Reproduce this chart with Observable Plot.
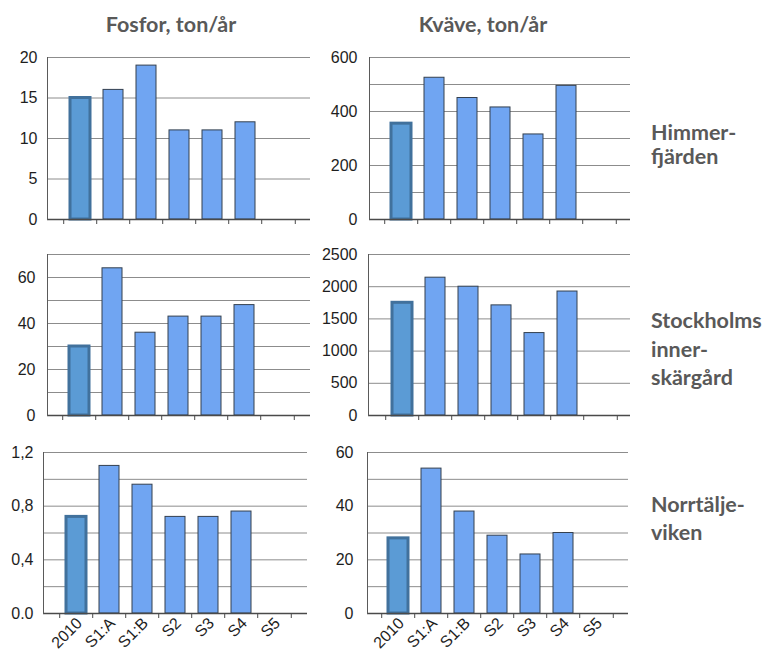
<!DOCTYPE html>
<html>
<head>
<meta charset="utf-8">
<script src="https://cdn.jsdelivr.net/npm/d3@7"></script>
<script src="https://cdn.jsdelivr.net/npm/@observablehq/plot@0.6"></script>
<style>
  html, body { margin: 0; padding: 0; background: #fff; }
  #chart { position: relative; width: 766px; height: 653px; overflow: hidden; background: #fff; }
  #chart > svg { position: absolute; }
  .title { font-family: Lato, "Open Sans", sans-serif; font-weight: 700; fill: #595959; }
</style>
</head>
<body>
<div id="chart"></div>
<script>
// ---- data ----
const categories = ["2010", "S1:A", "S1:B", "S2", "S3", "S4", "S5"];

const fosforHimmerfjarden = [15, 16, 19, 11, 11, 12, null];
const kvaveHimmerfjarden = [355, 525, 450, 415, 315, 495, null];
const fosforStockholm = [30, 64, 36, 43, 43, 48, null];
const kvaveStockholm = [1750, 2140, 2000, 1710, 1280, 1925, null];
const fosforNorrtalje = [0.72, 1.1, 0.96, 0.72, 0.72, 0.76, null];
const kvaveNorrtalje = [28, 54, 38, 29, 22, 30, null];

const columnTitles = ["Fosfor, ton/år", "Kväve, ton/år"];
const rowLabels = [["Himmer-", "fjärden"], ["Stockholms", "inner-", "skärgård"], ["Norrtälje-", "viken"]];

// y ticks (labelled) and gridlines
const ticksFH = [0, 5, 10, 15, 20];
const labelsFH = ["0", "5", "10", "15", "20"];
const gridFH = [0, 5, 10, 15, 20];

const ticksKH = [0, 200, 400, 600];
const labelsKH = ["0", "200", "400", "600"];
const gridKH = [0, 100, 200, 300, 400, 500, 600];

const ticksFS = [0, 20, 40, 60];
const labelsFS = ["0", "20", "40", "60"];
const gridFS = [0, 10, 20, 30, 40, 50, 60, 70];

const ticksKS = [0, 500, 1000, 1500, 2000, 2500];
const labelsKS = ["0", "500", "1000", "1500", "2000", "2500"];
const gridKS = [0, 500, 1000, 1500, 2000, 2500];

const ticksFN = [0, 0.4, 0.8, 1.2];
const labelsFN = ["0.0", "0,4", "0,8", "1,2"];
const gridFN = [0, 0.2, 0.4, 0.6, 0.8, 1.0, 1.2];

const ticksKN = [0, 20, 40, 60];
const labelsKN = ["0", "20", "40", "60"];
const gridKN = [0, 10, 20, 30, 40, 50, 60];

// ---- drawing ----
const chart = document.getElementById("chart");

function panel(values, yMax, ticks, labels, grid, showX, L) {
  const data = categories.map((c, i) => ({cat: c, value: values[i]})).filter(d => d.value != null);
  const base = data.filter(d => d.cat === "2010");
  const rest = data.filter(d => d.cat !== "2010");
  const step = (L.xr[1] - L.xr[0]) / categories.length;
  const svg = Plot.plot({
    width: L.w, height: L.h,
    marginTop: L.mt, marginBottom: L.mb, marginLeft: L.ml, marginRight: L.mr,
    x: {type: "band", domain: categories, range: L.xr, paddingInner: 0.4, paddingOuter: 0.2, axis: null, label: null},
    y: {domain: [0, yMax], axis: null, label: null},
    style: {fontFamily: "'Liberation Sans', Arial, sans-serif", background: "transparent", overflow: "visible"},
    marks: [
      Plot.ruleY(grid, {stroke: "#8c8c8c", strokeWidth: 1}),
      Plot.barY(rest, {x: "cat", y: "value", fill: "#70a5f2", stroke: "#34404f", strokeWidth: 1}),
      Plot.barY(base, {x: "cat", y: "value", fill: "#5b9bd5", stroke: "#41719c", strokeWidth: 3}),
      Plot.ruleY([0], {stroke: "#4a4a4a", strokeWidth: 1.5}),
      Plot.frame({anchor: "left", stroke: "#5a5a5a", strokeWidth: 1}),
      Plot.axisX({ticks: categories, tickSize: 5, text: null, label: null, dx: -step / 2, stroke: "#4a4a4a"}),
      Plot.axisX({ticks: [categories[categories.length - 1]], tickSize: 5, text: null, label: null, dx: step / 2, stroke: "#4a4a4a"}),
      Plot.axisY({ticks, tickFormat: (d, i) => labels[i], tickSize: 0, tickPadding: L.tp, fontSize: 16, fill: "#1e1e1e", label: null}),
      showX ? Plot.axisX({ticks: categories, tickSize: 0, tickPadding: 7, tickRotate: -45, fontSize: 16, fill: "#1e1e1e", dx: 3, label: null}) : null
    ]
  });
  svg.style.position = "absolute";
  svg.style.left = L.left + "px";
  svg.style.top = L.top + "px";
  chart.appendChild(svg);
}

panel(fosforHimmerfjarden, 20, ticksFH, labelsFH, gridFH, false,
  {left: 0, top: 47, w: 315, h: 182, mt: 10, mb: 10, ml: 47, mr: 5, xr: [61, 296], tp: 10});
panel(kvaveHimmerfjarden, 600, ticksKH, labelsKH, gridKH, false,
  {left: 315, top: 47, w: 320, h: 182, mt: 10, mb: 10, ml: 54, mr: 5, xr: [67, 302], tp: 12});
panel(fosforStockholm, 70, ticksFS, labelsFS, gridFS, false,
  {left: 0, top: 244, w: 315, h: 181, mt: 10, mb: 10, ml: 47, mr: 5, xr: [60, 295], tp: 12});
panel(kvaveStockholm, 2500, ticksKS, labelsKS, gridKS, false,
  {left: 315, top: 244, w: 320, h: 181, mt: 10, mb: 10, ml: 53, mr: 5, xr: [68, 303], tp: 11});
panel(fosforNorrtalje, 1.2, ticksFN, labelsFN, gridFN, true,
  {left: 0, top: 442, w: 315, h: 211, mt: 10, mb: 40, ml: 43, mr: 8, xr: [57, 292], tp: 10});
panel(kvaveNorrtalje, 60, ticksKN, labelsKN, gridKN, true,
  {left: 315, top: 442, w: 320, h: 211, mt: 10, mb: 40, ml: 52, mr: 7, xr: [64, 299], tp: 14});

// titles and row labels
const ns = "http://www.w3.org/2000/svg";
const overlay = document.createElementNS(ns, "svg");
overlay.setAttribute("width", 766);
overlay.setAttribute("height", 653);
overlay.style.left = "0px"; overlay.style.top = "0px"; overlay.style.pointerEvents = "none";
function addText(str, x, y, anchor, size) {
  const t = document.createElementNS(ns, "text");
  t.setAttribute("x", x); t.setAttribute("y", y);
  t.setAttribute("text-anchor", anchor);
  t.setAttribute("class", "title");
  t.setAttribute("font-size", size);
  t.textContent = str;
  overlay.appendChild(t);
}
addText(columnTitles[0], 171, 32, "middle", 21.5);
addText(columnTitles[1], 483, 32, "middle", 21.5);
const rowBaselines = [[140, 164], [328, 357, 385], [512, 540]];
rowLabels.forEach((lines, r) => lines.forEach((s, k) => addText(s, 651, rowBaselines[r][k], "start", 21.5)));
chart.appendChild(overlay);
</script>
</body>
</html>
